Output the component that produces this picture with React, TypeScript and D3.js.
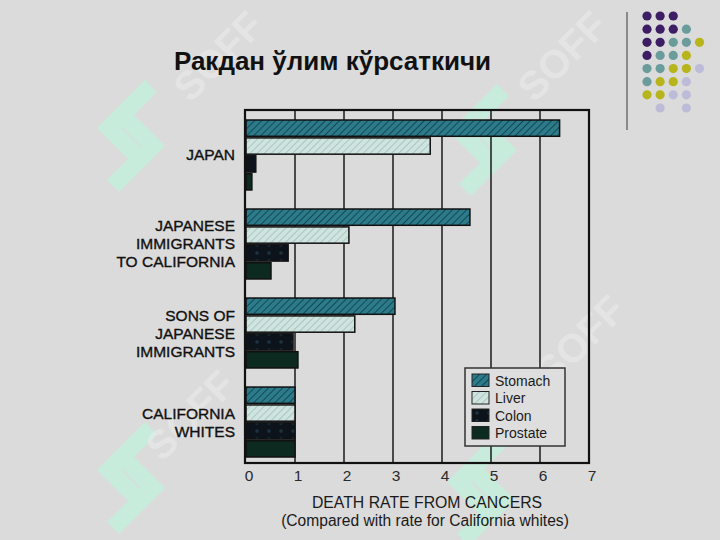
import React from "react";
import * as d3 from "d3";

const groups = ["JAPAN", "JAPANESE IMMIGRANTS TO CALIFORNIA", "SONS OF JAPANESE IMMIGRANTS", "CALIFORNIA WHITES"];
const groupLines = [["JAPAN"], ["JAPANESE", "IMMIGRANTS", "TO CALIFORNIA"], ["SONS OF", "JAPANESE", "IMMIGRANTS"], ["CALIFORNIA", "WHITES"]];
const seriesNames = ["Stomach", "Liver", "Colon", "Prostate"];
const stomach = [6.4, 4.57, 3.04, 1.0];
const liver = [3.76, 2.1, 2.22, 1.0];
const colon = [0.2, 0.86, 0.96, 1.0];
const prostate = [0.12, 0.51, 1.06, 1.0];
const xTicks = [0, 1, 2, 3, 4, 5, 6, 7];
const title = "Ракдан ўлим кўрсаткичи";
const axisTitle1 = "DEATH RATE FROM CANCERS";
const axisTitle2 = "(Compared with rate for California whites)";

// decorative dot grid: [row, col, colorIndex]
const dotColors = ["#3d1d63", "#6b9c9c", "#b7b41c", "#bdbcd8"];
const dots: [number, number, number][] = [
  [0, 0, 0], [0, 1, 0], [0, 2, 0],
  [1, 0, 0], [1, 1, 0], [1, 2, 0], [1, 3, 1],
  [2, 0, 0], [2, 1, 0], [2, 2, 1], [2, 3, 1], [2, 4, 2],
  [3, 0, 0], [3, 1, 1], [3, 2, 1], [3, 3, 2],
  [4, 0, 1], [4, 1, 1], [4, 2, 2], [4, 3, 2], [4, 4, 3],
  [5, 0, 1], [5, 1, 2], [5, 2, 2], [5, 3, 3],
  [6, 0, 2], [6, 1, 2], [6, 2, 3], [6, 3, 3],
  [7, 1, 3], [7, 3, 3],
];
const watermarkPos: [number, number][] = [[97, 78], [449, 82], [447, 432], [97, 420]];
const softTextPos: [number, number][] = [[228, 66], [572, 66], [590, 350], [200, 425]];

const seriesValues = [stomach, liver, colon, prostate];
const fills = ["url(#pStomach)", "url(#pLiver)", "url(#pColon)", "#0c2a1f"];
const font = "'Liberation Sans', Arial, Helvetica, sans-serif";

export default function App() {
  const W = 720, H = 540;
  const x = d3.scaleLinear().domain([0, 7]).range([246, 589]);
  const y0 = d3.scaleBand<string>().domain(groups).range([120, 457]).paddingInner(0.214);
  const y1 = d3.scaleBand<string>().domain(seriesNames).range([0, y0.bandwidth()]).paddingInner(0.09);
  const frameTop = 110, frameBottom = 463;
  const dotX = d3.scaleLinear().domain([0, 4]).range([647, 699.5]);
  const dotY = d3.scaleLinear().domain([0, 7]).range([16, 108]);
  const wmLine = d3.line();

  return (
    <div style={{ position: "fixed", left: 0, top: 0 }}>
      <svg width={W} height={H} style={{ display: "block", background: "#dbdbdb" }}>
        <defs>
          <pattern id="pStomach" width="5" height="5" patternUnits="userSpaceOnUse" patternTransform="rotate(45)">
            <rect width="5" height="5" fill="#2c7b8a" />
            <line x1="0" y1="0" x2="0" y2="5" stroke="#164653" strokeWidth="2" />
          </pattern>
          <pattern id="pLiver" width="5" height="5" patternUnits="userSpaceOnUse" patternTransform="rotate(45)">
            <rect width="5" height="5" fill="#cfe3df" />
            <line x1="0" y1="0" x2="0" y2="5" stroke="#9fc0bb" strokeWidth="1.6" />
          </pattern>
          <pattern id="pColon" width="12" height="8" patternUnits="userSpaceOnUse">
            <rect width="12" height="8" fill="#0c131a" />
            <circle cx="5" cy="4" r="1.8" fill="#1c3442" />
          </pattern>
        </defs>

        {/* watermarks */}
        {watermarkPos.map(([wx, wy], i) => (
          <g key={"wm" + i} transform={`translate(${wx},${wy})`} fill="none" stroke="#c6eedb" strokeWidth={17} strokeLinejoin="miter" opacity={0.9}>
            <path d={wmLine([[54, 8], [12, 50], [38, 76]]) || ""} />
            <path d={wmLine([[28, 40], [56, 68], [16, 108]]) || ""} />
          </g>
        ))}
        {softTextPos.map(([sx, sy], i) => (
          <text key={"st" + i} x={sx} y={sy} transform={`rotate(-45,${sx},${sy})`} fontFamily={font} fontWeight="bold" fontSize={40} fill="#ececec" opacity={0.55} textAnchor="middle">
            SOFF
          </text>
        ))}

        {/* title */}
        <text x={332.5} y={70} textAnchor="middle" fontFamily={font} fontWeight="bold" fontSize={26} fill="#111">
          {title}
        </text>

        {/* vertical separator */}
        <line x1={627} x2={627} y1={12} y2={130} stroke="#8a8a8a" strokeWidth={2} />
        {dots.map(([r, c, k], i) => (
          <circle key={"d" + i} cx={dotX(c)} cy={dotY(r)} r={4.6} fill={dotColors[k]} />
        ))}

        {/* gridlines */}
        {xTicks.slice(1, -1).map((t) => (
          <line key={"g" + t} x1={x(t)} x2={x(t)} y1={frameTop} y2={frameBottom} stroke="#1a1a1a" strokeWidth={1.5} />
        ))}

        {/* bars */}
        {groups.map((g, gi) => (
          <g key={g} transform={`translate(0,${y0(g)})`}>
            {seriesNames.map((s, si) => (
              <rect
                key={s}
                x={x(0)}
                y={y1(s)}
                width={x(seriesValues[si][gi]) - x(0)}
                height={y1.bandwidth()}
                fill={fills[si]}
                stroke="#111"
                strokeWidth={1.5}
              />
            ))}
          </g>
        ))}

        {/* frame */}
        <rect x={x(0) - 1} y={frameTop} width={x(7) - x(0) + 1} height={frameBottom - frameTop} fill="none" stroke="#111" strokeWidth={2.2} />

        {/* category labels */}
        {groups.map((g, gi) => {
          const lines = groupLines[gi];
          const cy = (y0(g) || 0) + y0.bandwidth() / 2;
          const lh = 18;
          return (
            <text key={"l" + g} textAnchor="end" fontFamily={font} fontSize={15.5} fill="#111" stroke="#111" strokeWidth={0.35}>
              {lines.map((ln, li) => (
                <tspan key={li} x={235} y={cy + (li - (lines.length - 1) / 2) * lh + 5.5}>
                  {ln}
                </tspan>
              ))}
            </text>
          );
        })}

        {/* x tick labels */}
        {xTicks.map((t) => (
          <text key={"t" + t} x={x(t) + 3} y={481} textAnchor="middle" fontFamily={font} fontSize={15.5} fill="#2a2a2a">
            {t}
          </text>
        ))}

        {/* axis title */}
        <text x={427} y={508} textAnchor="middle" fontFamily={font} fontSize={15.8} fill="#1a1a1a">
          {axisTitle1}
        </text>
        <text x={425} y={526} textAnchor="middle" fontFamily={font} fontSize={15.6} fill="#1a1a1a">
          {axisTitle2}
        </text>

        {/* legend */}
        <rect x={465} y={368} width={100} height={78} fill="#dedede" stroke="#333" strokeWidth={1.5} />
        {seriesNames.map((s, si) => (
          <g key={"lg" + s} transform={`translate(472,${374 + si * 17.5})`}>
            <rect width={17} height={12.5} fill={fills[si]} stroke="#222" strokeWidth={1} />
            <text x={23} y={11.5} fontFamily={font} fontSize={14} fill="#1a1a1a">
              {s}
            </text>
          </g>
        ))}
      </svg>
    </div>
  );
}
